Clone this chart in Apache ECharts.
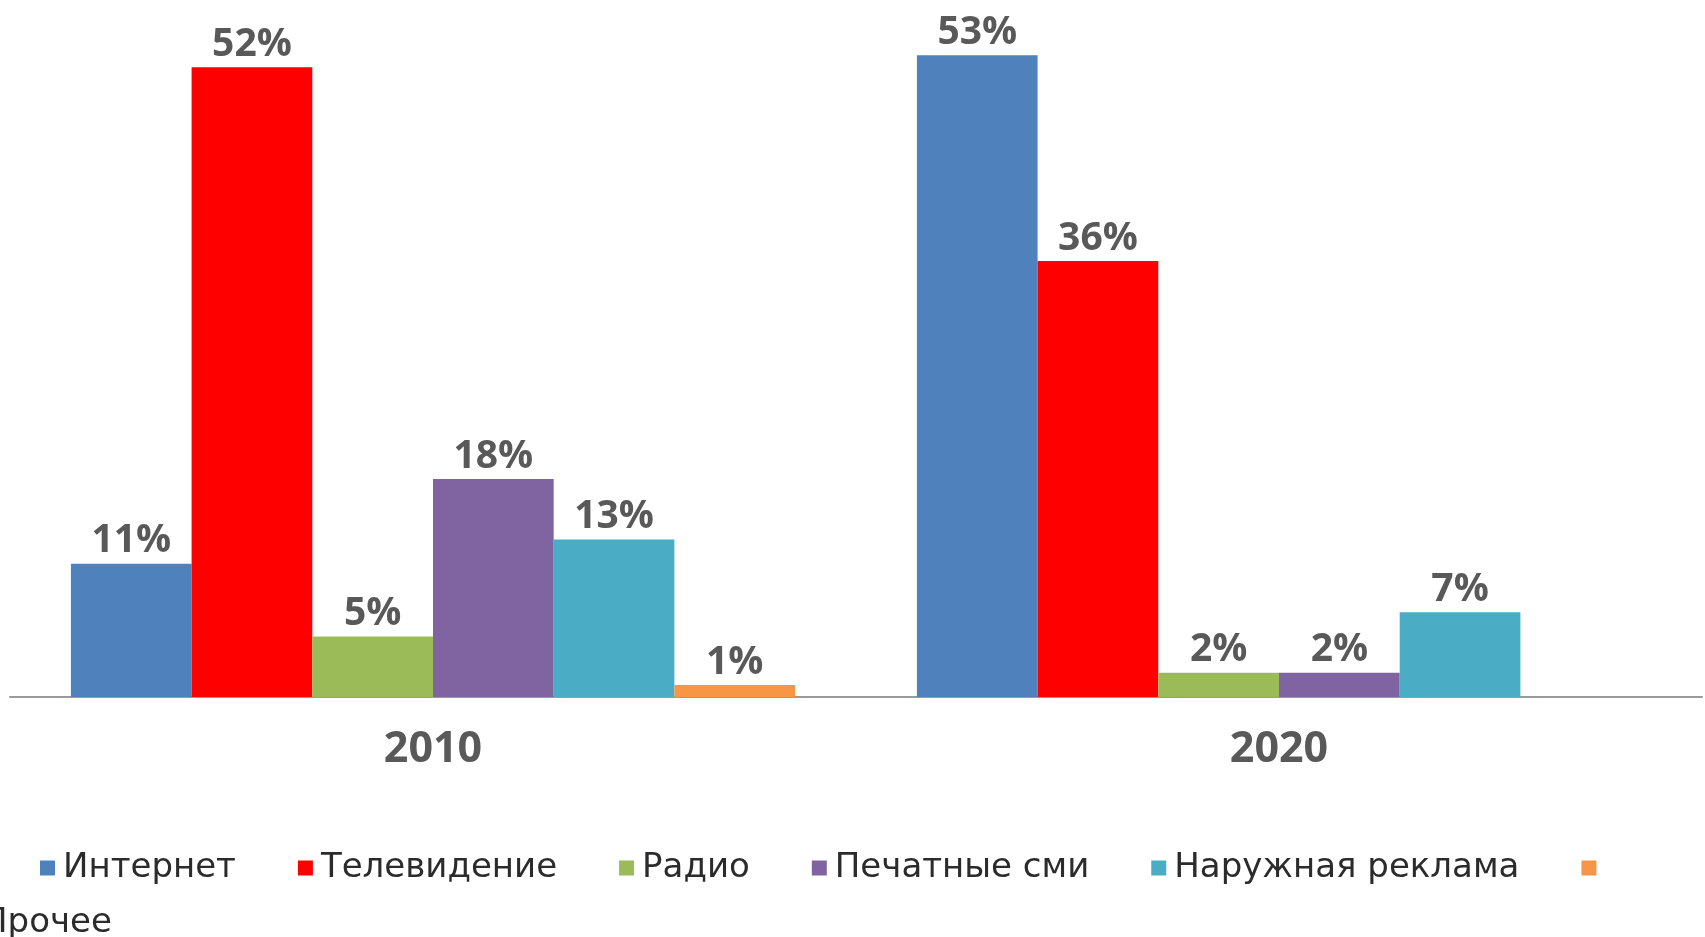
<!DOCTYPE html>
<html>
<head>
<meta charset="utf-8">
<script src="https://cdn.jsdelivr.net/npm/echarts@6/dist/echarts.min.js"></script>
<style>
  html, body { margin: 0; padding: 0; background: #ffffff; }
  #chart { width: 1705px; height: 937px; }
</style>
</head>
<body>
<div id="chart"></div>
<script>
// Advertising market structure by channel, share of total (%)
const categories = ['2010', '2020'];
const seriesNames = ['Интернет', 'Телевидение', 'Радио', 'Печатные сми', 'Наружная реклама', 'Прочее'];
const internet = [11, 53];
const television = [52, 36];
const radio = [5, 2];
const printMedia = [18, 2];
const outdoor = [13, 7];
const other = [1, null];

const seriesValues = [internet, television, radio, printMedia, outdoor, other];
const seriesColors = ['#4F81BD', '#FF0000', '#9BBB59', '#8064A2', '#4BACC6', '#F79646'];

const BOLD_FONT = '"Open Sans", "DejaVu Sans", sans-serif';
const LEGEND_FONT = '"DejaVu Sans", "Open Sans", sans-serif';

const chart = echarts.init(document.getElementById('chart'), null, { renderer: 'canvas' });

const series = seriesNames.map((name, i) => ({
  name: name,
  type: 'bar',
  data: seriesValues[i],
  barGap: '0%',
  barCategoryGap: '14.4%',
  itemStyle: { color: seriesColors[i] },
  label: {
    show: true,
    position: 'top',
    distance: 3,
    formatter: p => (p.value == null ? '' : p.value + '%'),
    color: '#595959',
    fontFamily: BOLD_FONT,
    fontWeight: 'bold',
    fontSize: 39
  },
  emphasis: { disabled: true }
}));

chart.setOption({
  animation: false,
  backgroundColor: '#ffffff',
  grid: { left: 10, right: 3, top: 31, bottom: 240, containLabel: false },
  xAxis: {
    type: 'category',
    data: categories,
    axisLine: { show: true, lineStyle: { color: '#9A9A9A', width: 2 } },
    axisTick: { show: false },
    axisLabel: {
      color: '#595959',
      fontFamily: BOLD_FONT,
      fontWeight: 'bold',
      fontSize: 43,
      margin: 31
    }
  },
  yAxis: {
    type: 'value',
    min: 0,
    max: 55,
    show: false,
    splitLine: { show: false }
  },
  legend: {
    data: seriesNames,
    left: 40,
    top: 851,
    padding: 0,
    itemWidth: 15,
    itemHeight: 15,
    itemGap: 62,
    icon: 'rect',
    selectedMode: false,
    formatter: name => (name === 'Прочее' ? '' : name),
    textStyle: {
      color: '#2B2B2B',
      fontFamily: LEGEND_FONT,
      fontSize: 34,
      padding: [0, 0, 0, 3]
    }
  },
  graphic: [{
    type: 'text',
    left: -18,
    top: 906,
    style: {
      text: 'Прочее',
      fill: '#2B2B2B',
      font: '34px ' + LEGEND_FONT
    }
  }],
  series: series
});
</script>
</body>
</html>
